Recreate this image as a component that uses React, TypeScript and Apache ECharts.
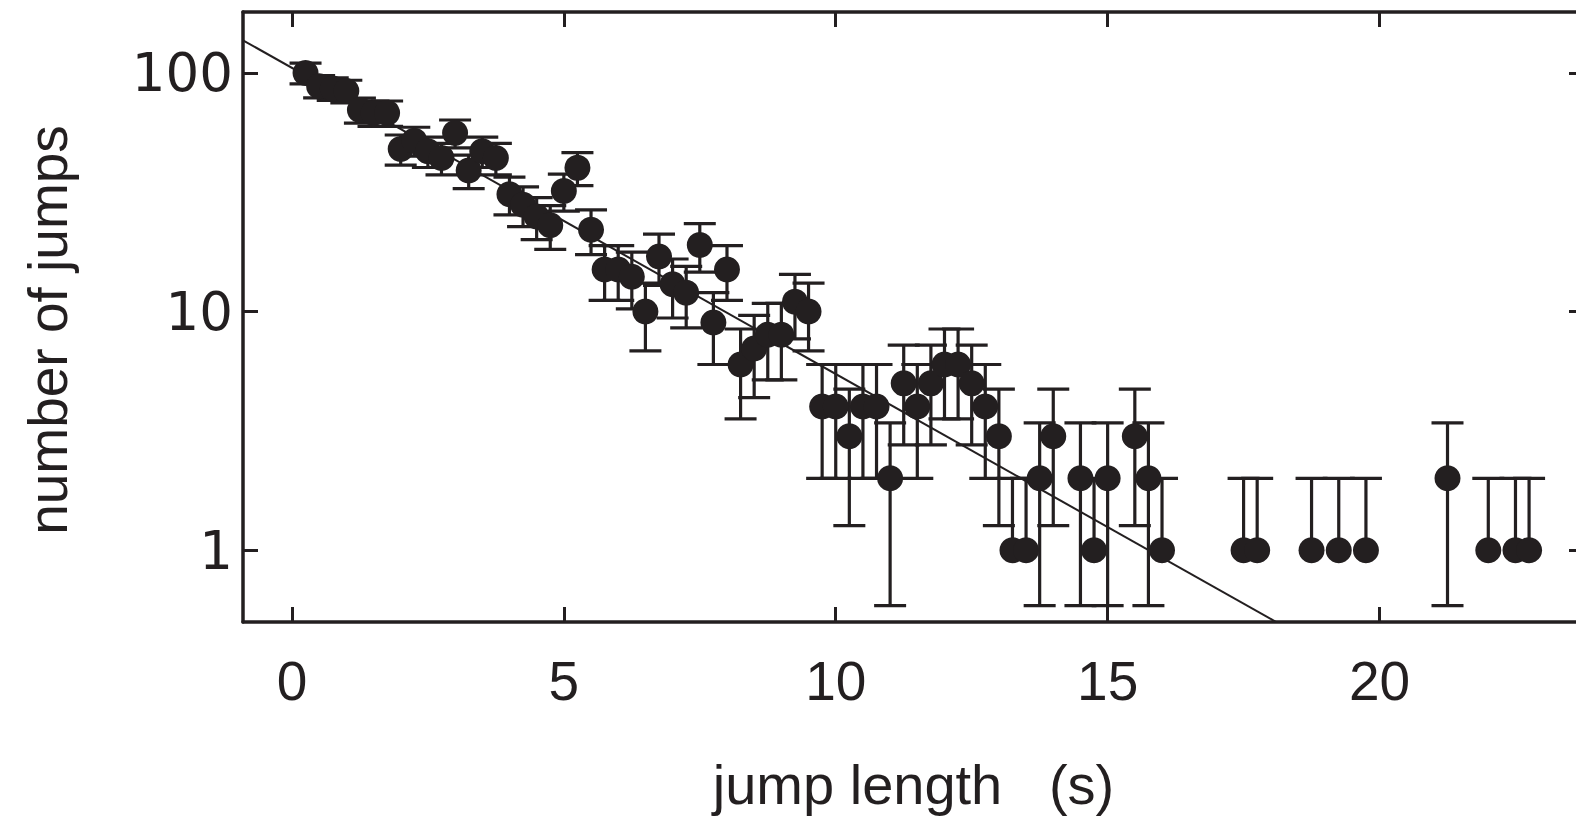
import React, { useEffect, useRef } from "react";
import * as echarts from "echarts";

// jump length bins (s)
const jumpLengths = [
  0.25, 0.5, 0.75, 1, 1.25, 1.5, 1.75, 2, 2.25, 2.5, 2.75, 3, 3.25, 3.5, 3.75,
  4, 4.25, 4.5, 4.75, 5, 5.25, 5.5, 5.75, 6, 6.25, 6.5, 6.75, 7, 7.25, 7.5, 7.75,
  8, 8.25, 8.5, 8.75, 9, 9.25, 9.5, 9.75, 10, 10.25, 10.5, 10.75, 11, 11.25,
  11.5, 11.75, 12, 12.25, 12.5, 12.75, 13, 13.25, 13.5, 13.75, 14, 14.5, 14.75,
  15, 15.5, 15.75, 16, 17.5, 17.75, 18.75, 19.25, 19.75, 21.25, 22, 22.5, 22.75,
];
// number of jumps in each bin
const jumpCounts = [
  100, 88, 86, 84, 70, 68, 68, 48, 52, 47, 44, 56, 39, 47, 44,
  31, 28, 25, 23, 32, 40, 22, 15, 15, 14, 10, 17, 13, 12, 19, 9,
  15, 6, 7, 8, 8, 11, 10, 4, 4, 3, 4, 4, 2, 5,
  4, 5, 6, 6, 5, 4, 3, 1, 1, 2, 3, 2, 1,
  2, 3, 2, 1, 1, 1, 1, 1, 1, 2, 1, 1, 1,
];
// exponential fit line end points
const fitX = [-0.9, 18.1];
const fitY = [137, 0.5];

const xTicks = [0, 5, 10, 15, 20];
const yTicks = [1, 10, 100];

const INK = "#231f20";

export default function App() {
  const ref = useRef<HTMLDivElement>(null);

  useEffect(() => {
    if (!ref.current) return;
    const chart = echarts.init(ref.current, null, { renderer: "svg" });

    const points = jumpLengths.map((x, i) => [x, jumpCounts[i]]);
    // Poisson (sqrt N) error bars
    const errData = jumpLengths.map((x, i) => {
      const n = jumpCounts[i];
      const e = Math.sqrt(n);
      return [x, n, n - e, n + e];
    });
    const fitData = fitX.map((x, i) => [x, fitY[i]]);

    const axisLine = { show: true, onZero: false, lineStyle: { color: INK, width: 3.5 } };
    const tickStyle = { color: INK, width: 3 };

    chart.setOption({
      animation: false,
      backgroundColor: "#ffffff",
      grid: {
        left: 243,
        top: 12,
        right: -8,
        bottom: 195,
        containLabel: false,
        outerBoundsMode: "none",
      },
      xAxis: [
        {
          type: "value",
          position: "bottom",
          min: -0.9,
          max: 23.76,
          axisLine,
          axisTick: { show: true, inside: true, length: 15, lineStyle: tickStyle, customValues: xTicks },
          axisLabel: {
            show: true,
            customValues: xTicks,
            margin: 31,
            fontSize: 55,
            fontFamily: "Liberation Sans",
            color: INK,
          },
          splitLine: { show: false },
          name: "jump length   (s)",
          nameLocation: "middle",
          nameGap: 134,
          nameTextStyle: { fontSize: 56, fontFamily: "Liberation Sans", color: INK },
        },
        {
          type: "value",
          position: "top",
          min: -0.9,
          max: 23.76,
          axisLine,
          axisTick: { show: true, inside: true, length: 15, lineStyle: tickStyle, customValues: xTicks },
          axisLabel: { show: false },
          splitLine: { show: false },
        },
      ],
      yAxis: [
        {
          type: "log",
          position: "left",
          min: 0.5,
          max: 180,
          axisLine,
          axisTick: { show: true, inside: true, length: 15, lineStyle: tickStyle, customValues: yTicks },
          axisLabel: {
            show: true,
            customValues: yTicks,
            margin: 10,
            fontSize: 53,
            fontFamily: "DejaVu Sans",
            color: INK,
            formatter: (v: number) => String(Math.round(v)),
          },
          minorTick: { show: false },
          splitLine: { show: false },
          name: "number of jumps",
          nameLocation: "middle",
          nameGap: 168,
          nameTextStyle: {
            fontSize: 55,
            fontFamily: "Liberation Sans",
            color: INK,
            padding: [0, 26, 0, 0],
          },
        },
        {
          type: "log",
          position: "right",
          min: 0.5,
          max: 180,
          axisLine,
          axisTick: { show: true, inside: true, length: 15, lineStyle: tickStyle, customValues: yTicks },
          axisLabel: { show: false },
          splitLine: { show: false },
        },
      ],
      series: [
        {
          type: "line",
          name: "fit",
          data: fitData,
          xAxisIndex: 0,
          yAxisIndex: 0,
          showSymbol: false,
          symbol: "none",
          clip: true,
          lineStyle: { color: INK, width: 2 },
          z: 1,
        },
        {
          type: "custom",
          name: "errors",
          data: errData,
          xAxisIndex: 0,
          yAxisIndex: 0,
          clip: true,
          z: 2,
          renderItem: (params: any, api: any) => {
            const x = api.value(0);
            const n = api.value(1);
            const lo = api.value(2);
            const hi = api.value(3);
            const mid = api.coord([x, n]);
            const top = api.coord([x, hi]);
            const hw = 16;
            const st = { stroke: INK, lineWidth: 3.2, fill: null };
            const children: any[] = [
              { type: "line", shape: { x1: mid[0], y1: mid[1], x2: top[0], y2: top[1] }, style: st },
              { type: "line", shape: { x1: top[0] - hw, y1: top[1], x2: top[0] + hw, y2: top[1] }, style: st },
            ];
            if (lo > 0) {
              const bot = api.coord([x, lo]);
              children.push(
                { type: "line", shape: { x1: mid[0], y1: mid[1], x2: bot[0], y2: bot[1] }, style: st },
                { type: "line", shape: { x1: bot[0] - hw, y1: bot[1], x2: bot[0] + hw, y2: bot[1] }, style: st }
              );
            }
            return { type: "group", children };
          },
        },
        {
          type: "scatter",
          name: "jumps",
          data: points,
          xAxisIndex: 0,
          yAxisIndex: 0,
          symbol: "circle",
          symbolSize: 26,
          itemStyle: { color: INK, opacity: 1 },
          z: 3,
        },
      ],
    });

    return () => chart.dispose();
  }, []);

  return (
    <div
      ref={ref}
      style={{ position: "absolute", left: 0, top: 0, width: 1576, height: 817, background: "#fff" }}
    />
  );
}
